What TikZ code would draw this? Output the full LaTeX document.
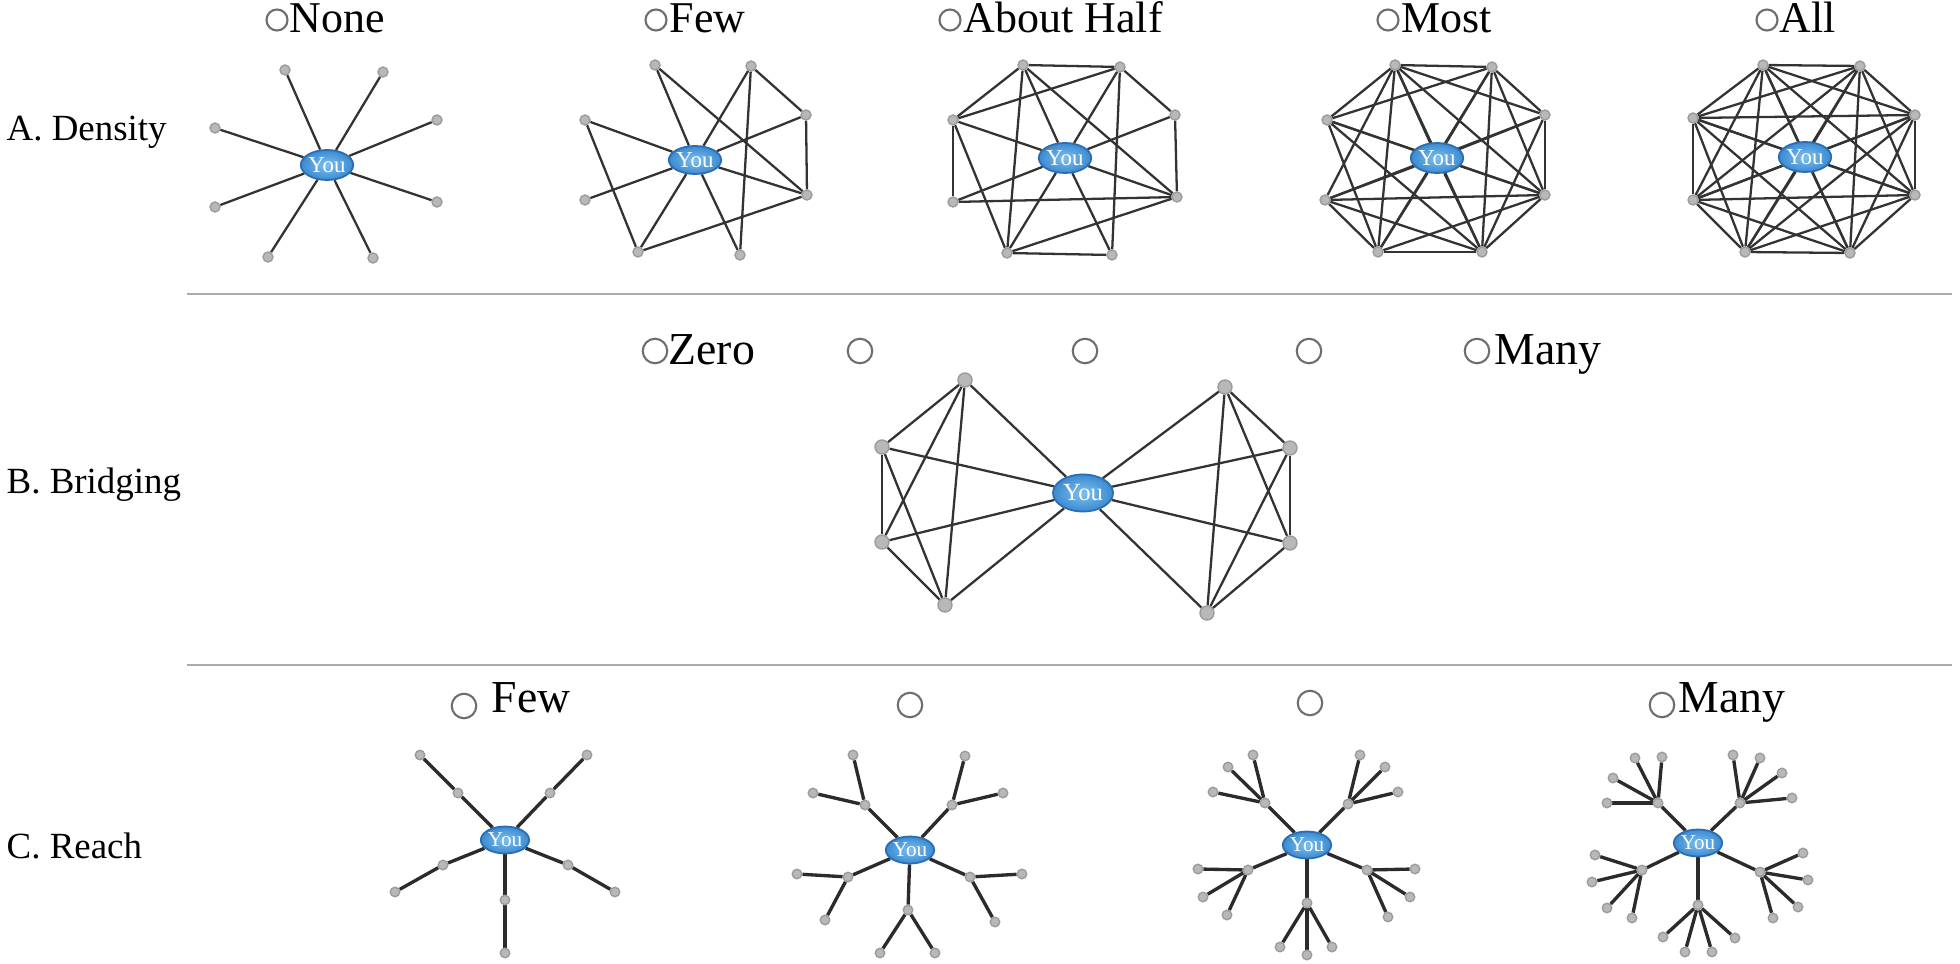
\documentclass[tikz,border=0pt]{standalone}
\usepackage{fontspec}
\setmainfont{Liberation Serif}
\usetikzlibrary{shapes.geometric}
\definecolor{edgecol}{HTML}{333333}
\definecolor{rulegray}{HTML}{ABABAB}
\definecolor{optgray}{HTML}{6E6E6E}
\definecolor{pnfill}{HTML}{B8B8B8}
\definecolor{pnline}{HTML}{9C9C9C}
\definecolor{youline}{HTML}{2A6DB2}
\definecolor{youin}{HTML}{7CC0F0}
\definecolor{youout}{HTML}{3C8AD0}
\pgfdeclarelayer{bg}
\pgfdeclarelayer{edges}
\pgfsetlayers{bg,edges,main}
\tikzset{
  you/.style={ellipse, draw=youline, line width=0.5pt, inner color=youin, outer color=youout,
    minimum width=0.5cm, minimum height=0.3cm, inner sep=0pt, text=white,
    font=\fontsize{6.5}{7}\selectfont},
  pn/.style={circle, fill=pnfill, draw=pnline, line width=0.4pt, minimum size=0.1cm, inner sep=0pt},
  pnr/.style={pn, minimum size=0.095cm},
  pnb/.style={pn, minimum size=0.14cm},
  radio/.style={circle, draw=optgray, line width=0.6pt, inner sep=0pt, minimum size=0.21cm},
  bigradio/.style={radio, minimum size=0.245cm},
  opt/.style={font=\fontsize{13}{15}\selectfont, inner sep=0pt, anchor=base west},
  topopt/.style={opt, font=\fontsize{12.5}{15}\selectfont},
  rowlab/.style={font=\fontsize{10.5}{12}\selectfont, inner sep=0pt, anchor=base west},
  link/.style={draw=edgecol, line width=0.65pt},
  rlink/.style={draw=edgecol!85!black, line width=0.95pt},
  hrule/.style={draw=rulegray, line width=0.6pt}
}
\begin{document}
\begin{tikzpicture}[x=0.01cm,y=-0.01cm]
\begin{pgfonlayer}{bg}
\fill[white] (0,0) rectangle (1960,964);
\end{pgfonlayer}
\useasboundingbox (0,0) rectangle (1960,964);

% ---------- row labels ----------
\node[rowlab] (labA) at (6,141) {A. Density};
\node[rowlab] (labB) at (6,494) {B. Bridging};
\node[rowlab] (labC) at (6,858) {C. Reach};

% ---------- rules ----------
\coordinate (h1a) at (187,294); \coordinate (h1b) at (1952,294);
\coordinate (h2a) at (187,665); \coordinate (h2b) at (1952,665);
\draw[hrule] (h1a) -- (h1b);
\draw[hrule] (h2a) -- (h2b);

% ---------- row A option labels ----------
\node[radio] (oa1) at (277,20) {}; \node[topopt] (ta1) at (289,33) {None};
\node[radio] (oa2) at (656,20) {}; \node[topopt] (ta2) at (669,33) {Few};
\node[radio] (oa3) at (950,20) {}; \node[topopt] (ta3) at (963,33) {About Half};
\node[radio] (oa4) at (1388,20) {}; \node[topopt] (ta4) at (1401,33) {Most};
\node[radio] (oa5) at (1767,20) {}; \node[topopt] (ta5) at (1779,33) {All};

% ---------- graph A (None) ----------
\node[you] (aY) at (327,165) {You};
\foreach \n/\x/\y in {1/285/70,2/383/72,3/437/120,4/437/202,5/373/258,6/268/257,7/215/207,8/215/128}
  \node[pn] (a\n) at (\x,\y) {};
\begin{pgfonlayer}{edges}
\foreach \n in {1,...,8} \draw[link] (aY) -- (a\n);
\end{pgfonlayer}

% ---------- graph B (Few) ----------
\node[you, minimum width=0.52cm, minimum height=0.28cm] (bY) at (695,160) {You};
\foreach \n/\x/\y in {1/655/65,2/751/66,3/806/115,4/807/195,5/740/255,6/638/252,7/585/200,8/585/120}
  \node[pn] (b\n) at (\x,\y) {};
\begin{pgfonlayer}{edges}
\foreach \n in {1,...,8} \draw[link] (bY) -- (b\n);
\foreach \i/\j in {8/6,1/4,2/5,2/3,3/4,6/4} \draw[link] (b\i) -- (b\j);
\end{pgfonlayer}

% ---------- graph C (About Half) ----------
\node[you] (cY) at (1065,158) {You};
\foreach \n/\x/\y in {1/1023/65,2/1120/67,3/1175/115,4/1177/197,5/1112/255,6/1007/253,7/953/202,8/953/120}
  \node[pn] (c\n) at (\x,\y) {};
\begin{pgfonlayer}{edges}
\foreach \n in {1,...,8} \draw[link] (cY) -- (c\n);
\foreach \i/\j in {1/2,1/8,1/6,1/4,2/8,2/3,2/5,8/7,8/6,7/4,3/4,4/6,6/5} \draw[link] (c\i) -- (c\j);
\end{pgfonlayer}

% ---------- graph D (Most) ----------
\node[you] (dY) at (1437,158) {You};
\foreach \n/\x/\y in {1/1395/65,2/1492/67,3/1545/115,4/1545/195,5/1482/252,6/1378/252,7/1325/200,8/1327/120}
  \node[pn] (d\n) at (\x,\y) {};
\begin{pgfonlayer}{edges}
\foreach \n in {1,...,8} \draw[link] (dY) -- (d\n);
\foreach \i/\j in {1/2,1/3,1/4,1/5,1/6,1/7,1/8,2/3,2/4,2/5,2/6,2/8,3/4,3/5,3/7,4/5,4/6,4/7,4/8,5/6,5/7,5/8,6/7,6/8} \draw[link] (d\i) -- (d\j);
\end{pgfonlayer}

% ---------- graph E (All) ----------
\node[you] (eY) at (1805,157) {You};
\foreach \n/\x/\y in {1/1763/65,2/1860/66,3/1915/115,4/1915/195,5/1850/253,6/1745/252,7/1693/200,8/1693/118}
  \node[pn] (e\n) at (\x,\y) {};
\begin{pgfonlayer}{edges}
\foreach \n in {1,...,8} \draw[link] (eY) -- (e\n);
\foreach \i in {1,...,7}{
  \pgfmathtruncatemacro\nxt{\i+1}
  \foreach \j in {\nxt,...,8} \draw[link] (e\i) -- (e\j);
}
\end{pgfonlayer}

% ---------- row B option labels ----------
\node[bigradio] (ob1) at (655,351) {}; \node[opt] (tb1) at (668,365) {Zero};
\node[bigradio] (ob2) at (860,351) {};
\node[bigradio] (ob3) at (1085,351) {};
\node[bigradio] (ob4) at (1309,351) {};
\node[bigradio] (ob5) at (1477,351) {}; \node[opt] (tb5) at (1494,365) {Many};

% ---------- bridging graph ----------
\node[you, minimum width=0.6cm, minimum height=0.37cm, font=\fontsize{7}{8}\selectfont] (fY) at (1083,493) {You};
\foreach \n/\x/\y in {1/965/380,2/882/447,3/882/542,4/945/605}
  \node[pnb] (fL\n) at (\x,\y) {};
\foreach \n/\x/\y in {1/1225/387,2/1290/448,3/1290/543,4/1207/613}
  \node[pnb] (fR\n) at (\x,\y) {};
\begin{pgfonlayer}{edges}
\foreach \n in {1,...,4} {\draw[link] (fY) -- (fL\n); \draw[link] (fY) -- (fR\n);}
\foreach \i/\j in {1/2,1/3,1/4,2/3,2/4,3/4} {\draw[link] (fL\i) -- (fL\j); \draw[link] (fR\i) -- (fR\j);}
\end{pgfonlayer}

% ---------- row C option labels ----------
\node[bigradio] (oc1) at (464,706) {}; \node[opt] (tc1) at (491,712) {Few};
\node[bigradio] (oc2) at (910,705) {};
\node[bigradio] (oc3) at (1310,703) {};
\node[bigradio] (oc4) at (1662,705) {}; \node[opt] (tc4) at (1678,712) {Many};

% ---------- reach graph P (Few) ----------
\node[you, minimum width=0.48cm, minimum height=0.27cm, font=\fontsize{6}{6}\selectfont] (pY) at (505,840) {You};
\foreach \n/\x/\y in {1/458/793,2/550/793,3/443/865,4/568/865,5/505/900}
  \node[pnr] (p\n) at (\x,\y) {};
\foreach \n/\x/\y in {1/420/755,2/587/755,3/395/892,4/615/892,5/505/953}
  \node[pnr] (p\n-1) at (\x,\y) {};
\begin{pgfonlayer}{edges}
\foreach \n in {1,...,5} {\draw[rlink] (pY) -- (p\n); \draw[rlink] (p\n) -- (p\n-1);}
\end{pgfonlayer}

% ---------- reach graph Q ----------
\node[you, minimum width=0.48cm, minimum height=0.27cm, font=\fontsize{6}{6}\selectfont] (qY) at (910,850) {You};
\foreach \n/\x/\y in {1/865/805,2/952/805,3/848/877,4/970/877,5/908/910}
  \node[pnr] (q\n) at (\x,\y) {};
\foreach \n/\k/\x/\y in {1/1/853/755,1/2/813/793,2/1/965/756,2/2/1003/793,3/1/797/874,3/2/825/920,4/1/1022/874,4/2/995/922,5/1/880/953,5/2/935/953}
  \node[pnr] (q\n-\k) at (\x,\y) {};
\begin{pgfonlayer}{edges}
\foreach \n in {1,...,5} {\draw[rlink] (qY) -- (q\n);
  \foreach \k in {1,2} \draw[rlink] (q\n) -- (q\n-\k);}
\end{pgfonlayer}

% ---------- reach graph R ----------
\node[you, minimum width=0.48cm, minimum height=0.27cm, font=\fontsize{6}{6}\selectfont] (rY) at (1307,845) {You};
\foreach \n/\x/\y in {1/1265/803,2/1348/804,3/1248/870,4/1367/870,5/1307/903}
  \node[pnr] (r\n) at (\x,\y) {};
\foreach \n/\k/\x/\y in {1/1/1253/755,1/2/1228/767,1/3/1213/792,
  2/1/1360/755,2/2/1385/767,2/3/1398/792,
  3/1/1198/869,3/2/1203/897,3/3/1227/915,
  4/1/1415/869,4/2/1410/897,4/3/1388/917,
  5/1/1280/947,5/2/1307/955,5/3/1332/947}
  \node[pnr] (r\n-\k) at (\x,\y) {};
\begin{pgfonlayer}{edges}
\foreach \n in {1,...,5} {\draw[rlink] (rY) -- (r\n);
  \foreach \k in {1,2,3} \draw[rlink] (r\n) -- (r\n-\k);}
\end{pgfonlayer}

% ---------- reach graph S (Many) ----------
\node[you, minimum width=0.48cm, minimum height=0.27cm, font=\fontsize{6}{6}\selectfont] (sY) at (1698,843) {You};
\foreach \n/\x/\y in {1/1658/803,2/1740/803,3/1642/870,4/1760/872,5/1698/905}
  \node[pnr] (s\n) at (\x,\y) {};
\foreach \n/\k/\x/\y in {1/1/1635/758,1/2/1662/757,1/3/1613/778,1/4/1607/803,
  2/1/1733/755,2/2/1760/758,2/3/1782/773,2/4/1792/798,
  3/1/1595/855,3/2/1592/882,3/3/1607/908,3/4/1632/918,
  4/1/1803/853,4/2/1808/880,4/3/1798/907,4/4/1773/918,
  5/1/1663/937,5/2/1685/952,5/3/1712/952,5/4/1735/938}
  \node[pnr] (s\n-\k) at (\x,\y) {};
\begin{pgfonlayer}{edges}
\foreach \n in {1,...,5} {\draw[rlink] (sY) -- (s\n);
  \foreach \k in {1,2,3,4} \draw[rlink] (s\n) -- (s\n-\k);}
\end{pgfonlayer}
\end{tikzpicture}
\end{document}
